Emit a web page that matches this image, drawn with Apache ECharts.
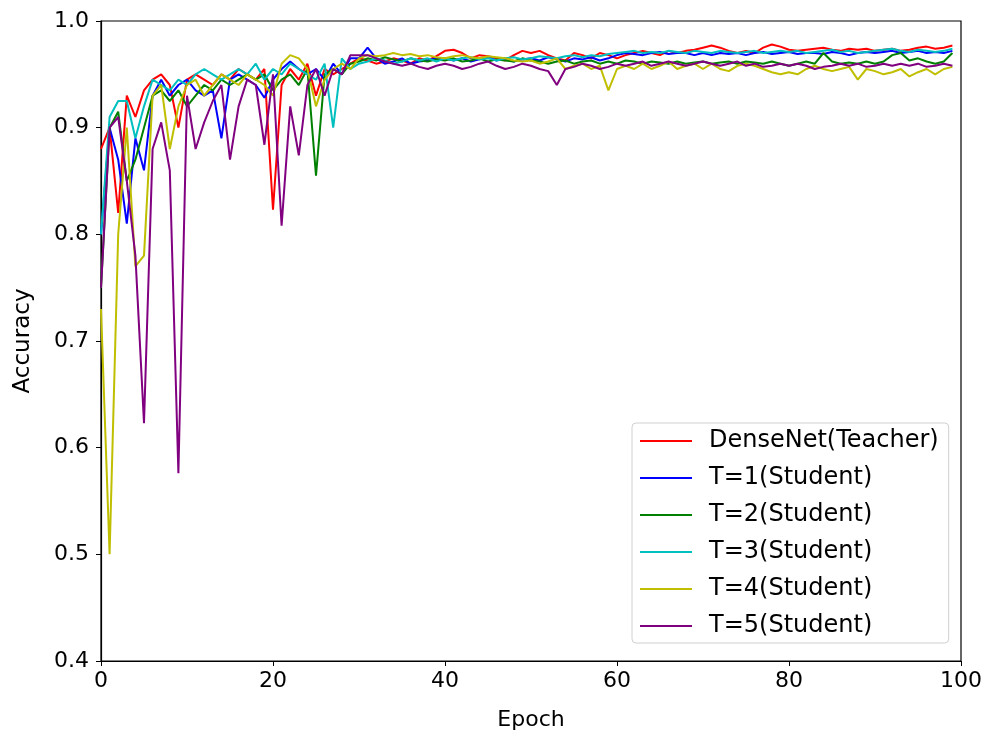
<!DOCTYPE html>
<html>
<head>
<meta charset="utf-8">
<script src="https://cdn.jsdelivr.net/npm/echarts@6/dist/echarts.min.js"></script>
<style>
  html, body { margin: 0; padding: 0; background: #fff; }
  #chart { width: 985px; height: 738px; }
</style>
</head>
<body>
<div id="chart"></div>
<script>
// epochs 0..99
const epochs = Array.from({ length: 100 }, (_, i) => i)

const teacher = [
  0.88, 0.90, 0.82, 0.93, 0.91, 0.935, 0.945, 0.95, 0.94, 0.90,
  0.945, 0.95, 0.945, 0.94, 0.95, 0.945, 0.955, 0.95, 0.945, 0.955,
  0.823, 0.94, 0.955, 0.945, 0.96, 0.93, 0.955, 0.95, 0.955, 0.96,
  0.965, 0.963, 0.96, 0.962, 0.965, 0.963, 0.96, 0.965, 0.963, 0.967,
  0.972, 0.973, 0.97, 0.965, 0.968, 0.967, 0.965, 0.963, 0.968, 0.972,
  0.97, 0.972, 0.968, 0.965, 0.963, 0.97, 0.968, 0.965, 0.97, 0.968,
  0.965, 0.968, 0.97, 0.972, 0.97, 0.968, 0.972, 0.97, 0.972, 0.973,
  0.975, 0.977, 0.975, 0.972, 0.97, 0.972, 0.97, 0.975, 0.978, 0.976,
  0.973, 0.972, 0.973, 0.974, 0.975, 0.973, 0.972, 0.974, 0.973, 0.974,
  0.972, 0.973, 0.974, 0.972, 0.973, 0.975, 0.976, 0.974, 0.975, 0.977
]
const t1 = [
  0.80, 0.90, 0.87, 0.81, 0.89, 0.86, 0.93, 0.945, 0.93, 0.94,
  0.945, 0.935, 0.93, 0.935, 0.89, 0.945, 0.95, 0.945, 0.94, 0.928,
  0.945, 0.955, 0.962, 0.955, 0.95, 0.955, 0.945, 0.96, 0.95, 0.965,
  0.965, 0.975, 0.965, 0.96, 0.962, 0.965, 0.96, 0.962, 0.963, 0.965,
  0.965, 0.963, 0.965, 0.962, 0.964, 0.966, 0.963, 0.965, 0.962, 0.964,
  0.965, 0.963, 0.966, 0.964, 0.962, 0.965, 0.964, 0.966, 0.963, 0.965,
  0.968, 0.97, 0.969, 0.968, 0.97, 0.971, 0.969, 0.97, 0.97, 0.968,
  0.97, 0.968, 0.97, 0.969, 0.97, 0.968, 0.97, 0.971, 0.969, 0.97,
  0.971, 0.969, 0.97, 0.97, 0.969, 0.971, 0.97, 0.968, 0.97, 0.971,
  0.97, 0.971, 0.972, 0.97, 0.971, 0.972, 0.97, 0.971, 0.97, 0.972
]
const t2 = [
  0.75, 0.90, 0.915, 0.85, 0.87, 0.90, 0.93, 0.935, 0.925, 0.935,
  0.92, 0.93, 0.94, 0.935, 0.945, 0.94, 0.945, 0.95, 0.945, 0.95,
  0.935, 0.945, 0.95, 0.94, 0.955, 0.855, 0.95, 0.955, 0.95, 0.96,
  0.962, 0.965, 0.963, 0.966, 0.964, 0.962, 0.965, 0.963, 0.962, 0.964,
  0.963, 0.965, 0.962, 0.963, 0.965, 0.962, 0.964, 0.963, 0.962, 0.965,
  0.963, 0.962, 0.96, 0.962, 0.963, 0.96, 0.962, 0.963, 0.96, 0.962,
  0.96, 0.963, 0.962, 0.96, 0.962, 0.961, 0.96, 0.962, 0.96, 0.961,
  0.962, 0.96, 0.961, 0.962, 0.96, 0.962, 0.961, 0.96, 0.962, 0.96,
  0.958, 0.96, 0.962, 0.96, 0.97, 0.962, 0.96, 0.961, 0.96, 0.962,
  0.96, 0.962, 0.968, 0.97, 0.963, 0.965, 0.962, 0.96, 0.962, 0.97
]
const t3 = [
  0.80, 0.91, 0.925, 0.925, 0.89, 0.92, 0.945, 0.94, 0.935, 0.945,
  0.94, 0.95, 0.955, 0.95, 0.945, 0.95, 0.955, 0.95, 0.96, 0.945,
  0.955, 0.95, 0.96, 0.955, 0.95, 0.945, 0.96, 0.90, 0.965, 0.955,
  0.96, 0.962, 0.965, 0.963, 0.96, 0.962, 0.965, 0.963, 0.965, 0.962,
  0.965, 0.963, 0.965, 0.966, 0.964, 0.965, 0.963, 0.965, 0.966, 0.964,
  0.965, 0.967, 0.966, 0.965, 0.967, 0.968, 0.966, 0.968, 0.967, 0.969,
  0.97, 0.971, 0.972, 0.97, 0.971, 0.97, 0.972, 0.971, 0.97, 0.972,
  0.971, 0.97, 0.972, 0.971, 0.97, 0.971, 0.972, 0.97, 0.971, 0.972,
  0.971, 0.972, 0.97, 0.971, 0.972, 0.973, 0.971, 0.972, 0.97, 0.971,
  0.972, 0.973, 0.974, 0.972, 0.971, 0.973, 0.972, 0.971, 0.972, 0.974
]
const t4 = [
  0.73, 0.50, 0.80, 0.90, 0.77, 0.78, 0.93, 0.94, 0.88, 0.92,
  0.94, 0.945, 0.93, 0.94, 0.95, 0.945, 0.94, 0.95, 0.945, 0.94,
  0.93, 0.96, 0.968, 0.965, 0.955, 0.92, 0.945, 0.955, 0.96, 0.955,
  0.965, 0.968, 0.967, 0.968, 0.97, 0.968, 0.969, 0.967, 0.968, 0.966,
  0.965, 0.967, 0.968, 0.966, 0.965, 0.967, 0.966, 0.965, 0.963, 0.962,
  0.963, 0.96, 0.962, 0.965, 0.955, 0.958, 0.96, 0.955, 0.958, 0.935,
  0.955, 0.958, 0.955, 0.96, 0.955, 0.958, 0.962, 0.955, 0.958, 0.96,
  0.955, 0.96, 0.955, 0.953, 0.958, 0.96, 0.958, 0.955, 0.952, 0.95,
  0.952, 0.95, 0.955, 0.958, 0.955, 0.953, 0.955, 0.957, 0.945, 0.955,
  0.953, 0.95, 0.952, 0.955, 0.948, 0.952, 0.955, 0.95, 0.955, 0.957
]
const t5 = [
  0.75, 0.90, 0.91, 0.85, 0.78, 0.623, 0.88, 0.905, 0.86, 0.576,
  0.93, 0.88, 0.905, 0.925, 0.94, 0.87, 0.92, 0.945, 0.94, 0.884,
  0.95, 0.808, 0.92, 0.874, 0.94, 0.955, 0.93, 0.955, 0.95, 0.968,
  0.968, 0.968, 0.965, 0.962, 0.96, 0.958, 0.96, 0.957, 0.955, 0.958,
  0.96, 0.958, 0.955, 0.957, 0.96, 0.962, 0.958, 0.955, 0.957, 0.96,
  0.958, 0.955, 0.953, 0.94, 0.955, 0.957, 0.96, 0.958, 0.955, 0.957,
  0.96, 0.958, 0.96, 0.962, 0.958, 0.96, 0.962, 0.96, 0.958, 0.96,
  0.962, 0.96, 0.958, 0.96, 0.962, 0.958, 0.96, 0.957, 0.958, 0.96,
  0.958, 0.96, 0.958, 0.955, 0.957, 0.958, 0.96, 0.958, 0.96, 0.957,
  0.958, 0.96, 0.958, 0.96, 0.958, 0.96, 0.957, 0.958, 0.96, 0.958
]

const names = ['DenseNet(Teacher)', 'T=1(Student)', 'T=2(Student)', 'T=3(Student)', 'T=4(Student)', 'T=5(Student)']
const colors = ['#ff0000', '#0000ff', '#008000', '#00bfbf', '#bfbf00', '#800080']
const values = [teacher, t1, t2, t3, t4, t5]

const font = 'DejaVu Sans'

const series = names.map((name, k) => ({
  name,
  type: 'line',
  data: epochs.map((e, i) => [e, values[k][i]]),
  showSymbol: false,
  lineStyle: { width: 2, color: colors[k] },
  itemStyle: { color: colors[k] }
}))

const option = {
  animation: false,
  backgroundColor: '#fff',
  color: colors,
  grid: {
    left: 101, right: 24, top: 21, bottom: 77,
    show: true, borderColor: '#000', borderWidth: 1.2
  },
  xAxis: {
    type: 'value', min: 0, max: 100, interval: 20,
    name: 'Epoch', nameLocation: 'middle', nameGap: 48,
    nameTextStyle: { fontFamily: font, fontSize: 22, color: '#000' },
    axisLine: { show: true, lineStyle: { color: '#000', width: 1.2 } },
    axisTick: { show: true, inside: false, length: 5, lineStyle: { color: '#000' } },
    axisLabel: { fontFamily: font, fontSize: 22, color: '#000', margin: 9 },
    splitLine: { show: false }
  },
  yAxis: {
    type: 'value', min: 0.4, max: 1.0, interval: 0.1,
    name: 'Accuracy', nameLocation: 'middle', nameGap: 66,
    nameTextStyle: { fontFamily: font, fontSize: 23, color: '#000' },
    axisLine: { show: true, lineStyle: { color: '#000', width: 1.2 } },
    axisTick: { show: true, inside: false, length: 5, lineStyle: { color: '#000' } },
    axisLabel: {
      fontFamily: font, fontSize: 22, color: '#000', margin: 12,
      formatter: v => v.toFixed(1)
    },
    splitLine: { show: false }
  },
  legend: {
    orient: 'vertical',
    left: 632, top: 423,
    data: names,
    icon: 'rect',
    itemWidth: 52, itemHeight: 2,
    itemGap: 13,
    padding: [6, 10, 5, 8],
    backgroundColor: '#fff',
    borderColor: '#d0d0d0', borderWidth: 1, borderRadius: 4,
    textStyle: { fontFamily: font, fontSize: 24, lineHeight: 24, color: '#000', padding: [0, 0, 0, 12] }
  },
  series
}

const chart = echarts.init(document.getElementById('chart'))
chart.setOption(option)
window.addEventListener('resize', () => chart.resize())
</script>
</body>
</html>
